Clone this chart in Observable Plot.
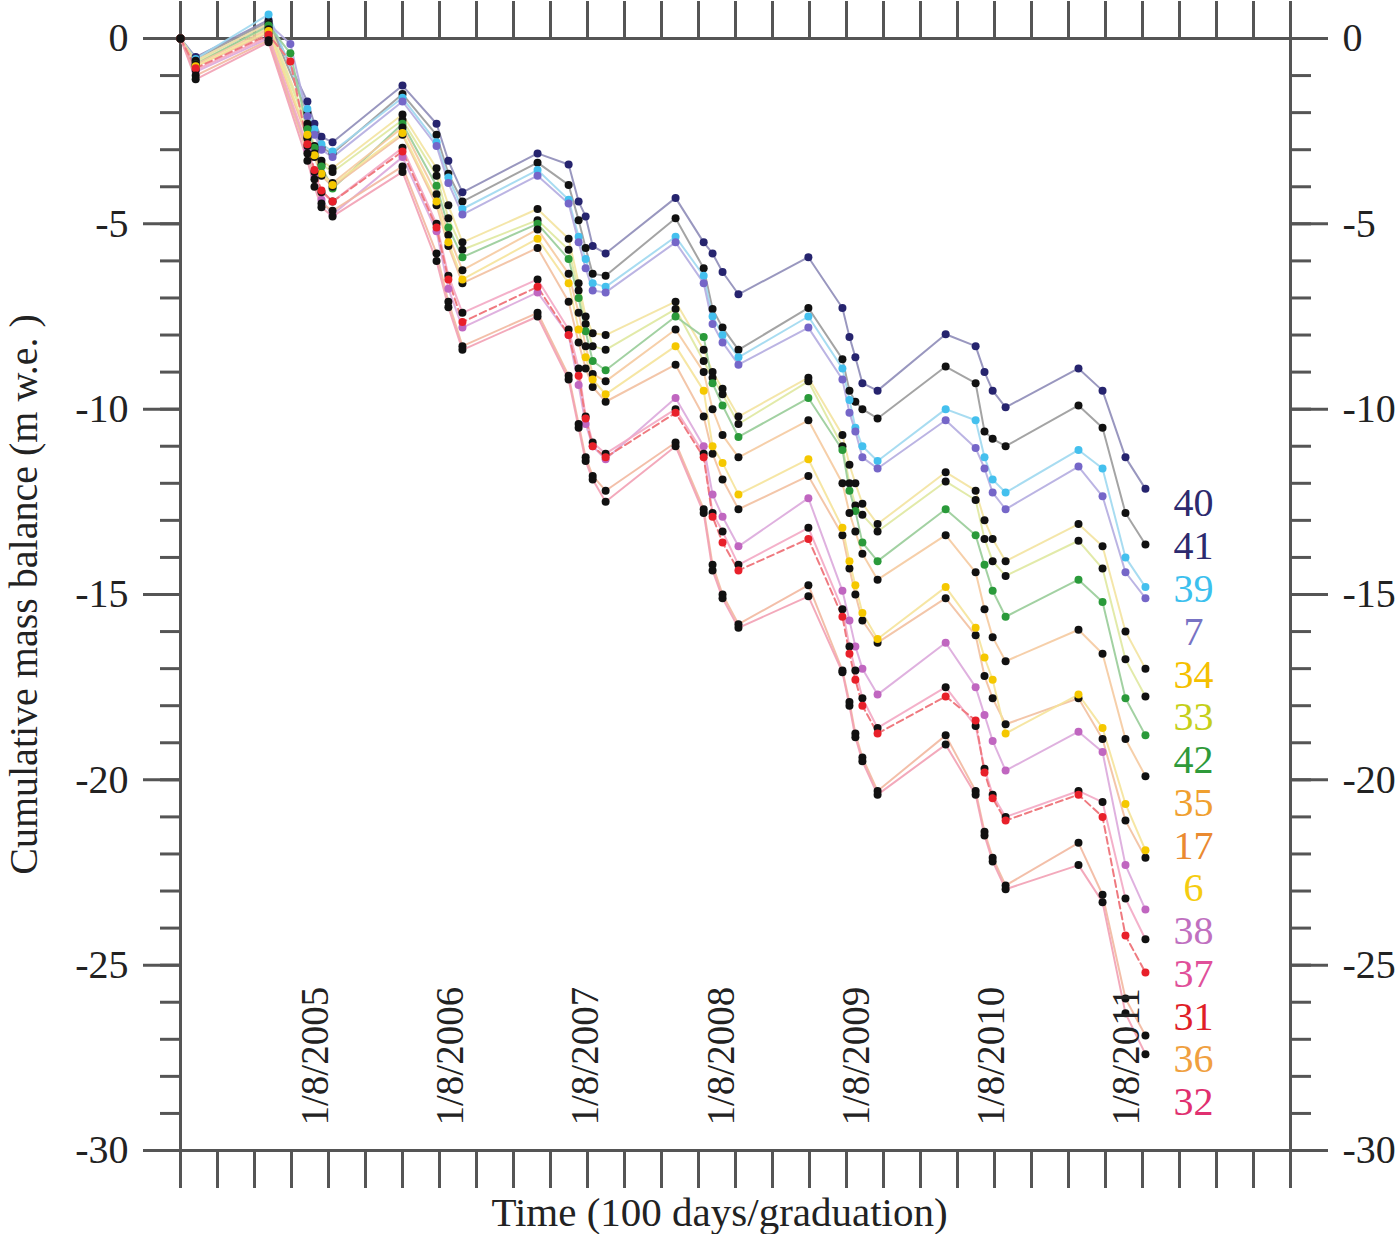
<!DOCTYPE html>
<html>
<head>
<meta charset="utf-8">
<script src="https://cdn.jsdelivr.net/npm/d3@7"></script>
<script src="https://cdn.jsdelivr.net/npm/@observablehq/plot@0.6"></script>
<style>
html, body { margin: 0; padding: 0; background: #fff; }
svg { display: block; }
</style>
</head>
<body>
<div id="chart"></div>
<script>
// Measurement dates, in days since 1/8/2004 (start of the record)
const days = [0, 41, 238, 297, 343, 362, 381, 411, 600, 692, 724, 762, 965, 1049, 1076, 1095, 1114, 1149,
  1338, 1414, 1438, 1465, 1508, 1697, 1789, 1808, 1824, 1843, 1884, 2068, 2149, 2173, 2195, 2230,
  2427, 2492, 2554, 2608];

// Stakes, in the order of the labels on the right
const stakes = ["40", "41", "39", "7", "34", "33", "42", "35", "17", "6", "38", "37", "31", "36", "32"];

// Cumulative mass balance (m w.e.) per stake, one value per date (null = not measured)
const s40 = [0, -0.5, 0.5, null, -1.7, -2.3, -2.65, -2.8, -1.27, -2.3, -3.3, -4.15, -3.1, -3.4, -4.4, -4.8, -5.6, -5.8, -4.3, -5.5, -5.8, -6.3, -6.9, -5.9, -7.27, -8.05, -8.6, -9.3, -9.5, -7.98, -8.3, -9.0, -9.5, -9.95, -8.9, -9.5, -11.3, -12.15];
const s41 = [0, -0.55, 0.45, null, -2.0, -2.55, -2.95, -3.1, -1.5, -2.6, -3.65, -4.4, -3.35, -3.95, -4.9, -5.65, -6.35, -6.4, -4.85, -6.2, -7.3, -7.8, -8.4, -7.27, -8.65, -9.5, -9.8, -10.0, -10.25, -8.85, -9.3, -10.6, -10.8, -11.0, -9.9, -10.5, -12.8, -13.65];
const s39 = [0, -0.55, 0.65, null, -1.9, -2.45, -2.85, -3.05, -1.6, -2.8, -3.75, -4.6, -3.55, -4.35, -5.35, -5.95, -6.6, -6.7, -5.35, -6.4, -7.5, -8.0, -8.6, -7.5, -8.9, -9.75, -10.5, -11.0, -11.4, -10.0, -10.3, -11.3, -11.9, -12.25, -11.1, -11.6, -14.0, -14.8];
const s7 = [0, -0.6, 0.4, -0.15, -2.1, -2.6, -3.0, -3.2, -1.7, -2.9, -3.9, -4.75, -3.7, -4.45, -5.5, -6.2, -6.8, -6.85, -5.5, -6.6, -7.7, -8.2, -8.8, -7.8, -9.2, -10.1, -10.6, -11.3, -11.6, -10.3, -11.05, -11.6, -12.25, -12.7, -11.55, -12.35, -14.4, -15.1];
const s34 = [0, -0.6, 0.4, null, -2.3, -2.9, -3.3, -3.5, -2.05, -3.5, -4.5, -5.5, -4.6, -5.4, -6.6, -7.5, -7.95, -8.0, -7.1, -8.4, -9.0, -9.45, -10.2, -9.15, -10.7, -11.5, -12.0, -12.55, -13.1, -11.7, -12.2, -13.0, -13.5, -14.1, -13.1, -13.7, -16.0, -17.0];
const s33 = [0, -0.65, 0.3, null, -2.4, -3.0, -3.4, -3.6, -2.2, -3.7, -4.85, -5.7, -4.9, -5.7, -6.8, -7.7, -8.3, -8.4, -7.3, -8.7, -9.15, -9.6, -10.4, -9.25, -11.0, -12.0, -12.6, -12.85, -13.3, -11.95, -12.45, -13.5, -14.1, -14.5, -13.55, -14.3, -16.75, -17.75];
const s42 = [0, -0.7, 0.35, -0.4, -2.45, -2.95, -3.45, -4.05, -2.3, -3.97, -5.1, -5.9, -5.0, -5.95, -7.0, -7.9, -8.7, -8.95, -7.5, -8.05, -9.3, -9.9, -10.75, -9.7, -11.1, -12.2, -12.75, -13.6, -14.1, -12.7, -13.4, -14.2, -14.9, -15.6, -14.6, -15.2, -17.8, -18.8];
const s35 = [0, -0.7, 0.25, null, -2.65, -3.1, -3.65, -3.9, -2.4, -4.2, -5.3, -6.25, -5.15, -6.35, -7.4, -8.3, -9.05, -9.25, -7.85, -9.0, -10.0, -10.7, -11.3, -10.3, -12.0, -12.8, -13.3, -13.9, -14.6, -13.4, -14.4, -15.4, -16.15, -16.8, -15.95, -16.6, -18.9, -19.9];
const s17 = [0, -0.75, 0.15, null, -2.7, -3.2, -3.7, -4.0, -2.6, -4.5, -5.6, -6.6, -5.65, -7.1, -8.2, -8.9, -9.4, -9.8, -8.8, -10.2, -11.2, -11.9, -12.7, -11.8, -13.4, -14.3, -15.0, -15.7, -16.3, -15.1, -16.1, -17.2, -17.8, -18.5, -17.8, -18.9, -21.1, -22.1];
const s6 = [0, -0.75, 0.2, null, -2.6, -3.15, -3.65, -3.95, -2.55, -4.4, -5.5, -6.5, -5.4, -6.6, -7.85, -8.6, -9.2, -9.6, -8.3, -9.5, -11.0, -11.45, -12.3, -11.35, -13.2, -14.1, -14.75, -15.5, -16.2, -14.8, -15.9, -16.7, -17.3, -18.75, -17.7, -18.6, -20.65, -21.9];
const s38 = [0, -0.9, 0.0, null, -3.0, -3.7, -4.35, -4.75, -3.2, -5.2, -6.75, -7.8, -6.85, -8.0, -9.35, -10.4, -11.0, -11.35, -9.7, -11.0, -12.3, -12.9, -13.7, -12.4, -14.9, -15.7, -16.4, -17.0, -17.7, -16.3, -17.5, -18.25, -18.95, -19.75, -18.7, -19.25, -22.3, -23.5];
const s37 = [0, -0.85, 0.05, null, -2.9, -3.6, -4.15, -4.4, -2.95, -5.0, -6.4, -7.4, -6.5, -7.85, -8.9, -10.2, -10.9, -11.2, -10.0, -11.2, -12.8, -13.3, -14.2, -13.2, -15.4, -16.4, -17.05, -17.8, -18.6, -17.5, -18.55, -19.7, -20.4, -21.0, -20.3, -20.6, -23.2, -24.3];
const s31 = [0, -0.8, 0.1, -0.62, -2.85, -3.55, -4.1, -4.4, -3.05, -5.1, -6.5, -7.65, -6.7, -8.0, -9.1, -10.25, -11.0, -11.3, -10.1, -11.3, -12.9, -13.6, -14.35, -13.5, -15.6, -16.6, -17.3, -18.0, -18.75, -17.75, -18.4, -19.8, -20.5, -21.1, -20.4, -21.0, -24.2, -25.2];
const s36 = [0, -1.0, -0.05, null, -3.1, -3.8, -4.45, -4.65, -3.45, -5.8, -7.1, -8.3, -7.4, -9.1, -10.4, -11.3, -11.8, -12.2, -10.9, -12.7, -14.2, -15.0, -15.8, -14.75, -17.05, -17.9, -18.75, -19.4, -20.3, -18.8, -20.3, -21.4, -22.1, -22.85, -21.7, -23.1, -25.9, -26.9];
const s32 = [0, -1.1, -0.1, null, -3.3, -4.0, -4.55, -4.8, -3.6, -6.0, -7.25, -8.4, -7.5, -9.2, -10.5, -11.4, -11.9, -12.5, -11.0, -12.8, -14.35, -15.1, -15.9, -15.05, -17.1, -18.0, -18.85, -19.5, -20.4, -19.05, -20.4, -21.5, -22.2, -22.95, -22.3, -23.3, -26.3, -27.4];

const series = {"40": s40, "41": s41, "39": s39, "7": s7, "34": s34, "33": s33, "42": s42, "35": s35,
  "17": s17, "6": s6, "38": s38, "37": s37, "31": s31, "36": s36, "32": s32};

// Colours
const markerColor = {"40": "#26246e", "41": "#111111", "39": "#44c0ee", "7": "#7566c8", "34": "#111111",
  "33": "#111111", "42": "#2a9a3a", "35": "#111111", "17": "#111111", "6": "#f5c800", "38": "#c066c0",
  "37": "#111111", "31": "#e8202a", "36": "#111111", "32": "#111111"};
const lineColor = {"40": "#8e8cb8", "41": "#9a9a9a", "39": "#9fd8f0", "7": "#b4ace0", "34": "#f3e3a0",
  "33": "#dfe8a0", "42": "#98cc98", "35": "#f5caa0", "17": "#f2c0a0", "6": "#f5e39a", "38": "#dca8dc",
  "37": "#f3a8c4", "31": "#ef7a80", "36": "#f2b8a0", "32": "#f2a0b4"};
const labelColor = {"40": "#2d2a6e", "41": "#2d2a6e", "39": "#3cc0ee", "7": "#7873c4", "34": "#f5c000",
  "33": "#c5cf1a", "42": "#2f9a3a", "35": "#f0a030", "17": "#ea8a30", "6": "#f5cc10", "38": "#c070c0",
  "37": "#e0509a", "31": "#e01e28", "36": "#f0a040", "32": "#e03070"};

// Axis ticks and labels
const yMajorTicks = [0, -5, -10, -15, -20, -25, -30];
const yMinorTicks = d3.range(-30, 1, 1);
const xTicks = d3.range(0, 3001, 100);
const dateLabels = ["1/8/2005", "1/8/2006", "1/8/2007", "1/8/2008", "1/8/2009", "1/8/2010", "1/8/2011"];
const originLabel = "1/8/2004";
const xTitle = "Time (100 days/graduation)";
const yTitle = "Cumulative mass balance (m w.e. )";

const parse = d3.timeParse("%d/%m/%Y");
const origin = parse(originLabel);
const dayOf = s => d3.timeDay.count(origin, parse(s));

const rows = stakes.flatMap(s => series[s]
  .map((v, i) => ({stake: s, day: days[i], mb: v}))
  .filter(d => d.mb !== null));

const lastDay = days[days.length - 1];
const labelY = d3.scaleLinear()
  .domain([0, stakes.length - 1])
  .range([s40[s40.length - 1] - 0.4, s32[s32.length - 1] - 1.3]);
const labelRows = stakes.map((s, i) => ({stake: s, day: lastDay, mb: labelY(i)}));

const font = "Liberation Serif, Times New Roman, DejaVu Serif, serif";
const axisStroke = "#555";
const textFill = "#222";

const chart = Plot.plot({
  width: 1400,
  height: 1234,
  marginLeft: 180,
  marginRight: 110,
  marginTop: 38,
  marginBottom: 84,
  style: {fontFamily: font, fontSize: "40px", background: "#fff", color: textFill},
  x: {domain: [0, 3000]},
  y: {domain: [-30, 0]},
  color: {type: "identity"},
  marks: [
    // ticks
    Plot.axisX(xTicks, {anchor: "bottom", tickSize: 38, tickFormat: () => "", stroke: axisStroke, strokeWidth: 3, label: null}),
    Plot.axisX(xTicks, {anchor: "top", tickSize: 38, tickFormat: () => "", stroke: axisStroke, strokeWidth: 3, label: null}),
    Plot.axisY(yMinorTicks, {anchor: "left", tickSize: 20, tickFormat: () => "", stroke: axisStroke, strokeWidth: 3, label: null}),
    Plot.axisY(yMinorTicks, {anchor: "right", tickSize: 20, tickFormat: () => "", stroke: axisStroke, strokeWidth: 3, label: null}),
    Plot.axisY(yMajorTicks, {anchor: "left", tickSize: 37, tickPadding: 15, tickFormat: d => String(d),
      stroke: axisStroke, strokeWidth: 3, fill: textFill, fontSize: 40, fontFamily: font, label: null}),
    Plot.axisY(yMajorTicks, {anchor: "right", tickSize: 37, tickPadding: 15, tickFormat: d => String(d),
      stroke: axisStroke, strokeWidth: 3, fill: textFill, fontSize: 40, fontFamily: font, label: null}),
    Plot.frame({stroke: axisStroke, strokeWidth: 3}),
    // lines
    Plot.line(rows.filter(d => d.stake !== "31"), {x: "day", y: "mb", z: "stake",
      stroke: d => lineColor[d.stake], strokeWidth: 2, strokeOpacity: 0.9}),
    Plot.line(rows.filter(d => d.stake === "31"), {x: "day", y: "mb", z: "stake",
      stroke: d => lineColor[d.stake], strokeWidth: 2, strokeDasharray: "7,4"}),
    // markers
    Plot.dot(rows, {x: "day", y: "mb", r: 4, fill: d => markerColor[d.stake]}),
    // date labels inside the frame
    Plot.text(dateLabels, {x: d => dayOf(d), text: d => d, frameAnchor: "bottom", dy: -25, rotate: -90,
      textAnchor: "start", lineAnchor: "middle", fontSize: 39, fontFamily: font, fill: textFill}),
    // stake labels
    Plot.text(labelRows, {x: "day", y: "mb", text: "stake", dx: 48, textAnchor: "middle", lineAnchor: "middle",
      fill: d => labelColor[d.stake], fontSize: 40, fontFamily: font}),
    // axis titles
    Plot.text([xTitle], {text: d => d, frameAnchor: "bottom", dx: -16, dy: 62, textAnchor: "middle", lineAnchor: "middle",
      fontSize: 41, fontFamily: font, fill: textFill}),
    Plot.text([yTitle], {text: d => d, frameAnchor: "left", dx: -156, rotate: -90, textAnchor: "middle", lineAnchor: "middle",
      fontSize: 40, fontFamily: font, fill: textFill})
  ]
});

document.getElementById("chart").appendChild(chart);
</script>
</body>
</html>
